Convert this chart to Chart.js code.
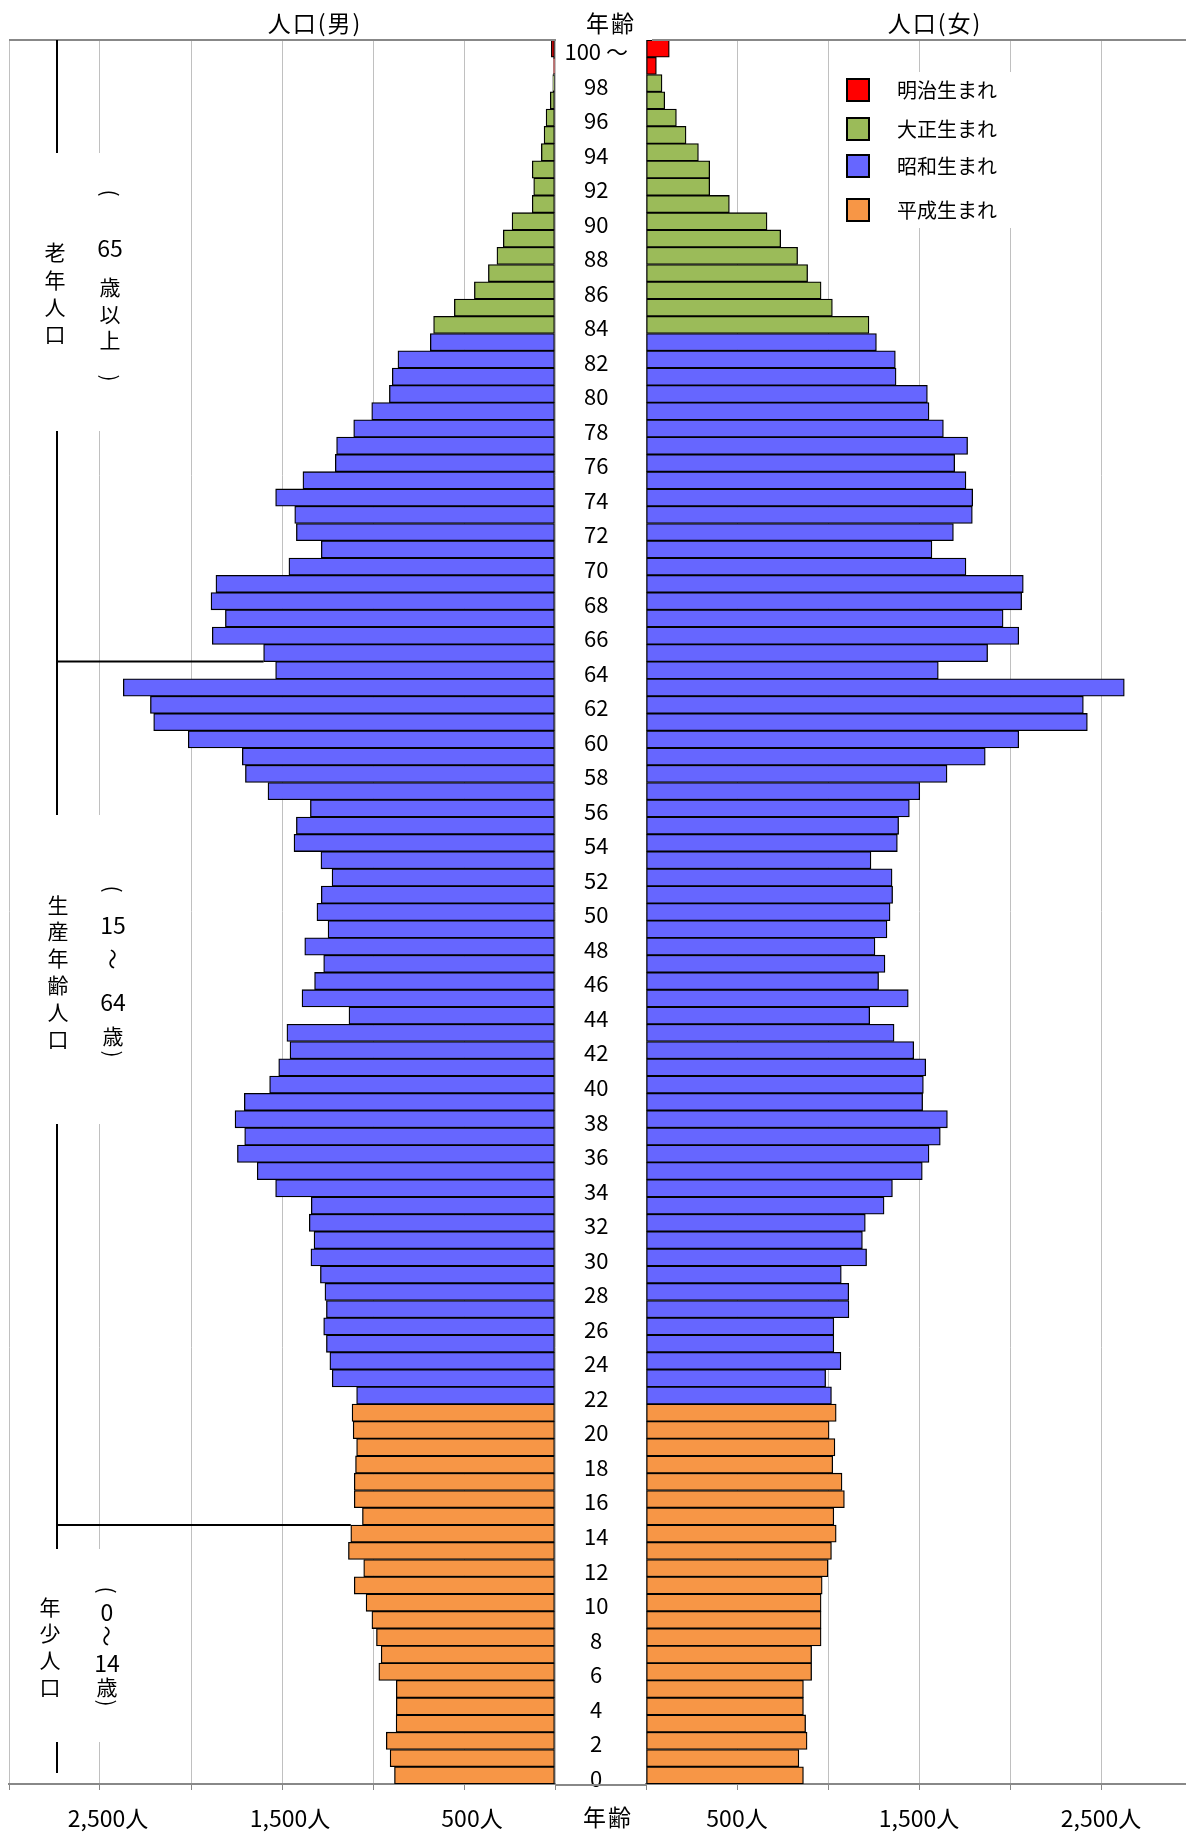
<!DOCTYPE html>
<html lang="ja">
<head>
<meta charset="utf-8">
<script src="https://cdn.jsdelivr.net/npm/chart.js@4.4.1/dist/chart.umd.min.js"></script>
<style>
    html, body { margin: 0; padding: 0; background: #fff; overflow: hidden; }
    #wrap { position: relative; width: 1186px; height: 1832px; overflow: hidden; }
    #wrap canvas { position: absolute; top: 0; }
    #left { left: -5px; }
    #right { left: 555px; }
</style>
</head>
<body>
<div id="wrap">
    <canvas id="left" width="574" height="1832"></canvas>
    <canvas id="right" width="651" height="1832"></canvas>
</div>
<script>
// Population pyramid by single year of age (top row = 100+)

const ages = [
    100, 99, 98, 97, 96, 95, 94, 93, 92, 91,
    90, 89, 88, 87, 86, 85, 84, 83, 82, 81,
    80, 79, 78, 77, 76, 75, 74, 73, 72, 71,
    70, 69, 68, 67, 66, 65, 64, 63, 62, 61,
    60, 59, 58, 57, 56, 55, 54, 53, 52, 51,
    50, 49, 48, 47, 46, 45, 44, 43, 42, 41,
    40, 39, 38, 37, 36, 35, 34, 33, 32, 31,
    30, 29, 28, 27, 26, 25, 24, 23, 22, 21,
    20, 19, 18, 17, 16, 15, 14, 13, 12, 11,
    10, 9, 8, 7, 6, 5, 4, 3, 2, 1,
    0
];

const male = [
    20, 8, 12, 26, 49, 60, 75, 125, 117, 125,
    236, 284, 319, 366, 443, 553, 667, 685, 863, 894,
    910, 1007, 1106, 1200, 1207, 1385, 1535, 1430, 1421, 1284,
    1462, 1863, 1890, 1811, 1883, 1601, 1535, 2372, 2223, 2205,
    2015, 1718, 1701, 1577, 1344, 1421, 1434, 1286, 1225, 1284,
    1308, 1247, 1375, 1271, 1321, 1390, 1132, 1473, 1456, 1518,
    1568, 1707, 1758, 1705, 1745, 1636, 1535, 1339, 1350, 1324,
    1341, 1289, 1264, 1256, 1271, 1256, 1237, 1224, 1090, 1115,
    1109, 1090, 1096, 1103, 1103, 1058, 1122, 1135, 1051, 1103,
    1038, 1006, 981, 955, 968, 872, 872, 873, 927, 906,
    882
];

const female = [
    128, 57, 88, 103, 167, 220, 288, 350, 350, 458,
    665, 740, 833, 888, 962, 1024, 1225, 1266, 1370, 1374,
    1546, 1555, 1634, 1767, 1696, 1758, 1795, 1793, 1689, 1571,
    1758, 2073, 2064, 1962, 2048, 1877, 1606, 2628, 2403, 2425,
    2048, 1864, 1654, 1504, 1447, 1388, 1381, 1236, 1352, 1355,
    1341, 1324, 1258, 1313, 1278, 1441, 1229, 1363, 1471, 1537,
    1524, 1520, 1656, 1617, 1555, 1518, 1354, 1308, 1205, 1189,
    1212, 1073, 1114, 1115, 1032, 1032, 1071, 987, 1019, 1045,
    1006, 1038, 1026, 1077, 1090, 1032, 1045, 1019, 1000, 968,
    962, 962, 962, 910, 910, 865, 865, 877, 885, 840,
    865
];

// Birth era of each row (era applies from this age upward)
const eraNames = ['明治生まれ', '大正生まれ', '昭和生まれ', '平成生まれ'];
const eraStartAge = [99, 84, 22, 0];
const eraColors = ['#FF0000', '#9BBB59', '#6666FF', '#F79646'];

// Axis ticks
const tickValues = [500, 1500, 2500];
const tickTexts = ['500人', '1,500人', '2,500人'];

// Age groups: lower bound of the upper group at each bracket line
const groupBounds = [65, 15];

const FONT = '"Noto Sans CJK JP", "Noto Sans", sans-serif';
Chart.defaults.font.family = FONT;
Chart.defaults.color = '#000';

// canvas offsets inside the page
const LEFT_X = -5;
const RIGHT_X = 555;

function eraIndex(age) {
    return eraStartAge.findIndex(a => age >= a);
}

function makeDatasets(values) {
    return eraNames.map((name, e) => ({
        label: name,
        data: values.map((v, i) => eraIndex(ages[i]) === e ? v : null),
        backgroundColor: eraColors[e],
        borderColor: '#000',
        borderWidth: 1.3,
        borderSkipped: false,
        grouped: false,
        barPercentage: 1,
        categoryPercentage: 1
    }));
}

function tickText(v) {
    const i = tickValues.indexOf(v);
    return i >= 0 ? tickTexts[i] : '';
}

function xScaleOptions(reverse, labelOffset) {
    return {
        reverse: reverse,
        min: 0,
        max: 3000,
        afterFit: s => { s.height = 48; },
        grid: { color: '#c0c0c0', lineWidth: 1, tickLength: 6, tickColor: '#888' },
        border: { color: '#888', width: 2 },
        ticks: {
            stepSize: 500,
            autoSkip: false,
            maxRotation: 0,
            padding: 14,
            labelOffset: labelOffset,
            font: { size: 23 },
            callback: v => tickText(v)
        }
    };
}

function line(ctx, x1, y1, x2, y2, color, width) {
    ctx.save();
    ctx.strokeStyle = color;
    ctx.lineWidth = width;
    ctx.beginPath();
    ctx.moveTo(x1, y1);
    ctx.lineTo(x2, y2);
    ctx.stroke();
    ctx.restore();
}

function title(ctx, text, x, y) {
    ctx.save();
    ctx.font = '23px ' + FONT;
    ctx.letterSpacing = '2px';
    ctx.textAlign = 'center';
    ctx.textBaseline = 'middle';
    ctx.fillStyle = '#000';
    ctx.fillText(text, x, y);
    ctx.restore();
}

// Draw one column of vertical text; brackets and wave dash are turned 90 degrees
function drawColumn(ctx, x, items, size) {
    ctx.save();
    ctx.fillStyle = '#000';
    ctx.textAlign = 'center';
    ctx.textBaseline = 'middle';
    items.forEach(([t, y]) => {
        const isDigit = /^[0-9]+$/.test(t);
        ctx.font = (isDigit ? size + 2 : size) + 'px ' + FONT;
        if (t === '(' || t === ')' || t === '～') {
            ctx.save();
            ctx.translate(x, y);
            ctx.rotate(Math.PI / 2);
            ctx.fillText(t, 0, 0);
            ctx.restore();
        } else {
            ctx.fillText(t, x, y);
        }
    });
    ctx.restore();
}

// Left side: title, age-group brackets and labels
const leftDecor = {
    id: 'leftDecor',
    afterDraw(chart) {
        const ctx = chart.ctx;
        const area = chart.chartArea;
        const xs = chart.scales.x;
        const ys = chart.scales.y;
        const rowH = ys.getPixelForValue(1) - ys.getPixelForValue(0);
        const px = x => x - LEFT_X;

        line(ctx, area.left, area.top, area.right + 1, area.top, '#888', 2);
        title(ctx, '人口(男)', px(315), 23);

        // bracket line
        line(ctx, px(57), area.top, px(57), 1773, '#000', 2);
        groupBounds.forEach(b => {
            const i = ages.indexOf(b);
            const y = ys.getPixelForValue(i) + rowH / 2;
            const x = xs.getPixelForValue(Math.max(male[i], male[i + 1]));
            line(ctx, px(57), y, x, y, '#000', 2);
        });

        // white boxes behind the labels
        ctx.save();
        ctx.fillStyle = '#fff';
        [[153, 431], [815, 1124], [1549, 1742]].forEach(([y1, y2]) => {
            ctx.fillRect(px(25), y1, 115, y2 - y1);
        });
        ctx.restore();

        drawColumn(ctx, px(55), [['老', 252], ['年', 280], ['人', 307], ['口', 334]], 21);
        drawColumn(ctx, px(110), [['(', 193], ['65', 248], ['歳', 287], ['以', 314], ['上', 340], [')', 378]], 21);

        drawColumn(ctx, px(58), [['生', 905], ['産', 931], ['年', 958], ['齢', 985], ['人', 1012], ['口', 1039]], 21);
        drawColumn(ctx, px(113), [['(', 889], ['15', 925], ['～', 959], ['64', 1002], ['歳', 1036], [')', 1054]], 21);

        drawColumn(ctx, px(50), [['年', 1607], ['少', 1633], ['人', 1660], ['口', 1687]], 21);
        drawColumn(ctx, px(107), [['(', 1590], ['0', 1612], ['～', 1636], ['14', 1663], ['歳', 1687], [')', 1703]], 21);
    }
};

// Right side: titles, axis joins and legend
const rightDecor = {
    id: 'rightDecor',
    afterDraw(chart) {
        const ctx = chart.ctx;
        const area = chart.chartArea;
        const px = x => x - RIGHT_X;

        line(ctx, area.left + 6, area.top, area.right, area.top, '#888', 2);
        line(ctx, 0, area.bottom + 1, area.left, area.bottom + 1, '#888', 2);

        title(ctx, '年齢', px(611), 23);
        title(ctx, '人口(女)', px(935), 23);
        title(ctx, '年齢', px(608), 1817);

        // legend box
        ctx.save();
        ctx.fillStyle = '#fff';
        ctx.fillRect(px(838), 72, 180, 156);
        const rows = [90, 129, 166, 210];
        chart.data.datasets.forEach((ds, i) => {
            ctx.fillStyle = ds.backgroundColor;
            ctx.fillRect(px(847), rows[i] - 11, 22, 22);
            ctx.strokeStyle = '#000';
            ctx.lineWidth = 2;
            ctx.strokeRect(px(847), rows[i] - 11, 22, 22);
            ctx.fillStyle = '#000';
            ctx.font = '20px ' + FONT;
            ctx.textAlign = 'left';
            ctx.textBaseline = 'middle';
            ctx.fillText(ds.label, px(897), rows[i]);
        });
        ctx.restore();
    }
};

// Male (left) chart
new Chart(document.getElementById('left'), {
    type: 'bar',
    data: { labels: ages, datasets: makeDatasets(male) },
    options: {
        indexAxis: 'y',
        responsive: false,
        animation: false,
        layout: { padding: { left: 0, right: 0, top: 40, bottom: 0 } },
        plugins: { legend: { display: false }, tooltip: { enabled: false } },
        scales: {
            x: xScaleOptions(true, 8),
            y: { display: false }
        }
    },
    plugins: [leftDecor]
});

// Female (right) chart, age labels on its y axis
new Chart(document.getElementById('right'), {
    type: 'bar',
    data: { labels: ages, datasets: makeDatasets(female) },
    options: {
        indexAxis: 'y',
        responsive: false,
        animation: false,
        layout: { padding: { left: 0, right: 0, top: 40, bottom: 0 } },
        plugins: { legend: { display: false }, tooltip: { enabled: false } },
        scales: {
            x: xScaleOptions(false, 0),
            y: {
                position: 'left',
                afterFit: s => { s.width = 91; },
                grid: { display: false, drawTicks: false },
                border: { display: false },
                ticks: {
                    autoSkip: false,
                    crossAlign: 'center',
                    padding: 18,
                    labelOffset: 3,
                    font: { size: 22 },
                    callback: (v, i) => {
                        const a = ages[i];
                        if (a === 100) return '100 ～';
                        return a % 2 === 0 ? String(a) : '';
                    }
                }
            }
        }
    },
    plugins: [rightDecor]
});
</script>
</body>
</html>
